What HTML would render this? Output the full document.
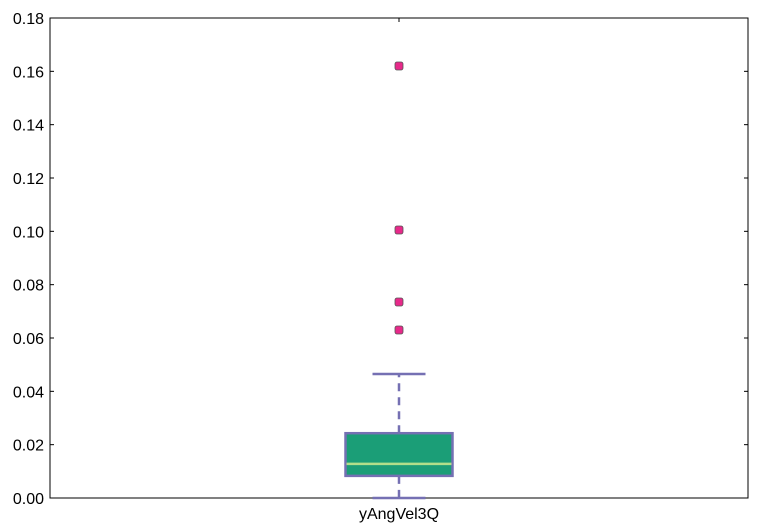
<!DOCTYPE html>
<html><head><meta charset="utf-8"><style>body{margin:0;background:#fff}svg{display:block;font-family:"Liberation Sans",sans-serif}</style></head>
<body>
<svg width="757" height="532" xmlns="http://www.w3.org/2000/svg" id="chart"></svg>
<script>
const categories = ["yAngVel3Q"];
const whiskerLow = [0.0];
const q1 = [0.0083];
const median = [0.0128];
const q3 = [0.0243];
const whiskerHigh = [0.0465];
const outliers = [[0.162, 0.1005, 0.0735, 0.063]];
const yTicks = [0, 0.02, 0.04, 0.06, 0.08, 0.10, 0.12, 0.14, 0.16, 0.18];
const yTickLabels = ["0.00","0.02","0.04","0.06","0.08","0.10","0.12","0.14","0.16","0.18"];

const NS="http://www.w3.org/2000/svg", svg=document.getElementById('chart');
const L=50,R=748,T=18,B=498;
const y=v=>B-(v-0)/(0.18)*(B-T);
const x=i=>L+(R-L)*(i+0.5)/categories.length;
function mk(t,a,p){const e=document.createElementNS(NS,t);for(const k in a)e.setAttribute(k,a[k]);(p||svg).appendChild(e);return e;}
const plot=mk('rect',{x:L,y:T,width:R-L,height:B-T,fill:'#fff',stroke:'#000','stroke-width':1});


yTicks.forEach((v,i)=>{
  const g=mk('g',{});
  
  
  mk('line',{x1:L,x2:L+4,y1:y(v),y2:y(v),stroke:'#000'},g);
  mk('line',{x1:R,x2:R-4,y1:y(v),y2:y(v),stroke:'#000'},g);
  const t=mk('text',{x:L-6,y:y(v)+6,'text-anchor':'end','font-size':16},g);t.textContent=yTickLabels[i];
});
categories.forEach((c,i)=>{
  const cx=x(i),bw=107,cw=53;
  const g=mk('g',{});
  
  
  mk('line',{x1:cx,x2:cx,y1:T,y2:T+4,stroke:'#000'},g);
  mk('line',{x1:cx,x2:cx,y1:B,y2:B-4,stroke:'#000'},g);
  mk('line',{x1:cx,x2:cx,y1:y(q3[i]),y2:y(whiskerHigh[i]),stroke:'#7570b3','stroke-width':2.5,'stroke-dasharray':'8,6'},g);
  mk('line',{x1:cx,x2:cx,y1:y(q1[i]),y2:y(whiskerLow[i]),stroke:'#7570b3','stroke-width':2.5,'stroke-dasharray':'8,6'},g);
  mk('line',{x1:cx-cw/2,x2:cx+cw/2,y1:y(whiskerHigh[i]),y2:y(whiskerHigh[i]),stroke:'#7570b3','stroke-width':2.5},g);
  mk('line',{x1:cx-cw/2,x2:cx+cw/2,y1:y(whiskerLow[i]),y2:y(whiskerLow[i]),stroke:'#7570b3','stroke-width':2.5},g);
  mk('rect',{x:cx-bw/2,y:y(q3[i]),width:bw,height:y(q1[i])-y(q3[i]),fill:'#1b9e77',stroke:'#7570b3','stroke-width':2.5},g);
  mk('line',{x1:cx-bw/2+1,x2:cx+bw/2-1,y1:y(median[i]),y2:y(median[i]),stroke:'#b2df8a','stroke-width':2.5},g);
  outliers[i].forEach(v=>{
    const o=mk('rect',{x:cx-4,y:y(v)-4,width:8,height:8,rx:2,fill:'#e7298a',stroke:'#555','stroke-width':0.8},g);
    
    
  });
  const t=mk('text',{x:cx,y:B+21,'text-anchor':'middle','font-size':16});
  t.textContent=c;
  
  
});
</script>
</body></html>
